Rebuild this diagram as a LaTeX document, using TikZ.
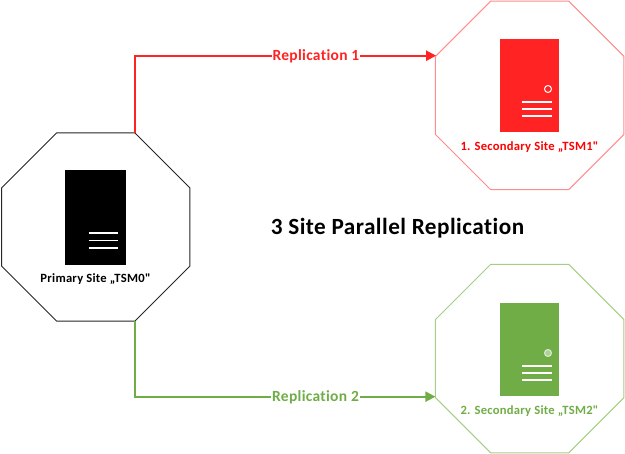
\documentclass[tikz,border=0pt]{standalone}
\usepackage{fontspec}
\setmainfont{Carlito}[Ligatures={NoCommon,TeXOff},LetterSpace=2]
\usetikzlibrary{shapes.geometric,arrows.meta}
\definecolor{tsmred}{HTML}{FF2323}
\definecolor{tsmredline}{HTML}{FF8C8C}
\definecolor{tsmredtext}{HTML}{FF0000}
\definecolor{tsmgreen}{HTML}{70AD47}
\definecolor{tsmgreenline}{HTML}{A3CF85}
\tikzset{
  site/.style={regular polygon,regular polygon sides=8,minimum size=204pt,inner sep=0pt,outer sep=0pt,line width=1pt,fill=white},
  tower/.style={rectangle,inner sep=0pt,outer sep=0pt,minimum width=#1,anchor=north west},
  slot/.style={white,line width=1.8pt},
  sitelabel/.style={font=\fontsize{12.6}{15}\selectfont\bfseries,inner sep=0pt},
  replabel/.style={font=\fontsize{15.5}{18}\selectfont\bfseries,fill=white,inner sep=1pt,yshift=-0.8pt},
  repline/.style={line width=2pt,-{Triangle[length=10pt,width=10pt]}},
}
\begin{document}
\begin{tikzpicture}[x=1pt,y=-1pt]
\useasboundingbox (0,0) rectangle (625,454);

% site outlines
\node[site,draw=black!85] (primary) at (95.75,227) {};
\node[site,draw=tsmredline] (first) at (529.7,95.4) {};
\node[site,draw=tsmgreenline] (second) at (529.7,358.6) {};

% server towers
\node[tower=61pt,minimum height=95pt,fill=black] (towerP) at (65.3,170) {};
\node[tower=59pt,minimum height=93.5pt,fill=tsmred] (towerA) at (500,39) {};
\node[tower=59pt,minimum height=93.5pt,fill=tsmgreen] (towerB) at (500,303) {};

% drive slots and power buttons
\foreach \y in {233,240.5,248} \draw[slot] (88.5,\y) -- (118,\y);
\foreach \y in {102,109,116} \draw[slot] (522,\y) -- (552,\y);
\foreach \y in {366,373,380} \draw[slot] (522,\y) -- (552,\y);
\draw[white,line width=1pt] (548,89) circle (3.5);
\draw[white!75!tsmgreen,fill=white!45!tsmgreen,line width=1pt] (548,353) circle (3.5);

% site captions
\node[sitelabel] (captionP) at (95.5,278.8) {Primary Site „TSM0"};
\node[sitelabel,text=tsmredtext] (captionA) at (529.5,146.8) {1. Secondary Site „TSM1"};
\node[sitelabel,text=tsmgreen] (captionB) at (529.5,410.8) {2. Secondary Site „TSM2"};

% replication links
\draw[repline,tsmred] (primary.67.5) |- (first.157.5)
  node[pos=0.80,replabel,text=tsmred] (rep1) {Replication 1};
\draw[repline,tsmgreen] (primary.-67.5) |- (second.202.5)
  node[pos=0.80,replabel,text=tsmgreen] (rep2) {Replication 2};

\node[font=\fontsize{23.2}{28}\selectfont\bfseries,inner sep=0pt] (title) at (397.5,228) {3 Site Parallel Replication};
\end{tikzpicture}
\end{document}
